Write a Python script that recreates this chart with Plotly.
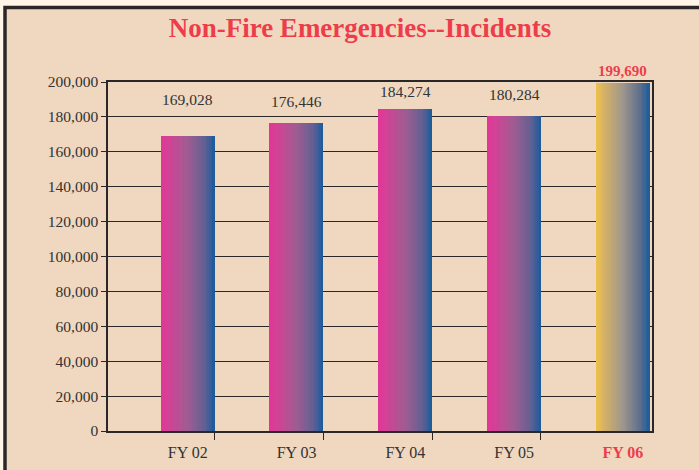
import plotly.graph_objects as go

# ---- data ----
categories = ["FY 02", "FY 03", "FY 04", "FY 05", "FY 06"]
incidents = [169028, 176446, 184274, 180284, 199690]
value_labels = ["169,028", "176,446", "184,274", "180,284", "199,690"]
label_heights = [189700, 189100, 194300, 192600, 206300]  # label placement (data units)
y_ticks = list(range(0, 200001, 20000))
y_max = 200000

# ---- style ----
FONT = "Liberation Serif, Times New Roman, serif"
RED = "#EE3D4A"
DARK = "#2B2728"
BEIGE = "#EFD8BF"
CREAM = "#FFF6E8"

pink_stops = [(0.0, (226, 52, 152)), (0.12, (214, 64, 150)), (0.5, (160, 92, 146)),
              (0.82, (100, 96, 146)), (1.0, (26, 92, 158))]
gold_stops = [(0.0, (240, 194, 76)), (0.15, (214, 178, 100)), (0.5, (160, 152, 140)),
              (0.82, (96, 112, 140)), (1.0, (28, 92, 154))]


def interp(stops, t):
    for (t0, c0), (t1, c1) in zip(stops[:-1], stops[1:]):
        if t0 <= t <= t1:
            f = (t - t0) / (t1 - t0) if t1 > t0 else 0
            c = [round(a + (b - a) * f) for a, b in zip(c0, c1)]
            return "rgb(%d,%d,%d)" % tuple(c)
    return "rgb(%d,%d,%d)" % stops[-1][1]


xs = list(range(len(categories)))
N = 32
total_w = 0.49
start = -0.012
fig = go.Figure()
for k in range(N):
    t = (k + 0.5) / N
    cols = [interp(gold_stops if i == len(categories) - 1 else pink_stops, t) for i in xs]
    fig.add_trace(go.Bar(
        x=xs, y=incidents, width=total_w / N * 1.08, offset=start + k * total_w / N,
        marker=dict(color=cols, line=dict(width=0)), showlegend=False, hoverinfo="skip",
    ))

centers = [i + start + total_w / 2 for i in xs]
# dummy trace for secondary x axis (tick marks at bar edges)
fig.add_trace(go.Scatter(x=[None], y=[None], xaxis="x2", showlegend=False, hoverinfo="skip"))

ticktext = [c if i < len(categories) - 1 else f"<b><span style='color:{RED}'>{c}</span></b>"
            for i, c in enumerate(categories)]

for i, (lab, yy) in enumerate(zip(value_labels, label_heights)):
    last = i == len(categories) - 1
    fig.add_annotation(x=centers[i], xref="x", y=yy / y_max, yref="y domain",
                       text=f"<b>{lab}</b>" if last else lab,
                       showarrow=False, yanchor="middle",
                       font=dict(family=FONT, size=15.5 if not last else 15,
                                 color=RED if last else "#333333"))

fig.update_layout(
    width=699, height=470,
    margin=dict(l=108, r=47, t=82, b=39),
    paper_bgcolor=CREAM, plot_bgcolor="rgba(0,0,0,0)",
    barmode="overlay", bargap=0,
    title=dict(text="<b>Non-Fire Emergencies--Incidents</b>", x=0.515, xref="container",
               y=1 - 28 / 470, yref="container", xanchor="center", yanchor="middle",
               font=dict(family=FONT, size=27, color=RED)),
    xaxis=dict(range=[-0.5, 4.5], tickvals=centers, ticktext=ticktext, ticks="",
               ticklabelstandoff=6, showgrid=False, zeroline=False, automargin=False,
               showline=True, linecolor=DARK, linewidth=1.5, mirror=True,
               tickfont=dict(family=FONT, size=16, color="#333333")),
    xaxis2=dict(range=[-0.5, 4.5], overlaying="x", anchor="y", side="bottom",
                tickvals=[i + start + total_w for i in xs[:-1]], ticktext=["", "", "", ""],
                ticks="outside", ticklen=8, tickwidth=1.3, tickcolor=DARK, automargin=False,
                showgrid=False, zeroline=False, showline=False),
    yaxis=dict(range=[0, y_max], tickvals=y_ticks, tickformat=",", ticks="outside",
               ticklen=5, tickwidth=1.3, tickcolor=DARK, automargin=False,
               showgrid=True, gridcolor=DARK, gridwidth=1.3, zeroline=False,
               showline=True, linecolor=DARK, linewidth=1.5, mirror=True,
               tickfont=dict(family=FONT, size=15.5, color="#333333")),
    shapes=[dict(type="rect", xref="paper", yref="paper",
                 x0=(5 - 108) / 544, x1=1.3, y0=-0.3, y1=(431 - 7.5) / 349,
                 fillcolor=BEIGE, line=dict(color=DARK, width=3.5), layer="below")],
)

fig.write_html("out.html", config={"displayModeBar": False},
               post_script="document.body.style.margin='0';"
                           "document.body.style.background='#FFF6E8';")
